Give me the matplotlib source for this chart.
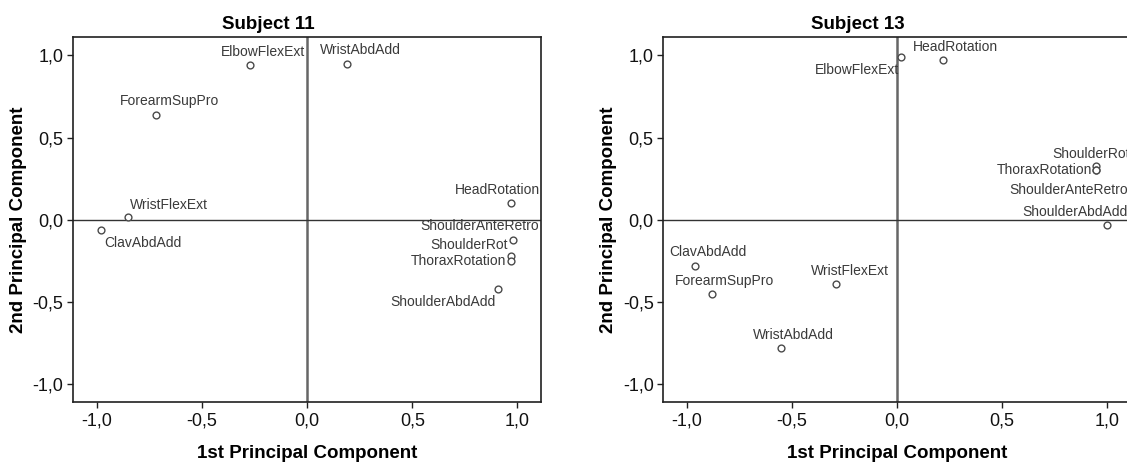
import matplotlib
matplotlib.use('Agg')
import matplotlib.pyplot as plt
from matplotlib.ticker import FuncFormatter

# =====================================================
# DATA (component loadings)
# =====================================================

s11_names = ['ElbowFlexExt', 'WristAbdAdd', 'ForearmSupPro', 'HeadRotation',
             'WristFlexExt', 'ClavAbdAdd', 'ShoulderRot', 'ShoulderAnteRetro',
             'ThoraxRotation', 'ShoulderAbdAdd']
s11_pc1 = [-0.27, 0.19, -0.72, 0.97, -0.85, -0.98, 0.98, 0.97, 0.97, 0.91]
s11_pc2 = [0.94, 0.95, 0.64, 0.10, 0.02, -0.06, -0.12, -0.22, -0.25, -0.42]

s13_names = ['ElbowFlexExt', 'HeadRotation', 'ShoulderRot', 'ThoraxRotation',
             'ShoulderAnteRetro', 'ShoulderAbdAdd', 'ClavAbdAdd',
             'ForearmSupPro', 'WristFlexExt', 'WristAbdAdd']
s13_pc1 = [0.02, 0.22, 0.95, 0.95, 0.95, 1.00, -0.96, -0.88, -0.29, -0.55]
s13_pc2 = [0.99, 0.97, 0.33, 0.30, 0.30, -0.03, -0.28, -0.45, -0.39, -0.78]

tick_values = [-1.0, -0.5, 0.0, 0.5, 1.0]

# label placement: (dx px, dy px, horizontal alignment)
s11_label_pos = [(-29, 13, 'left'), (-27, 14, 'left'), (-36, 14, 'left'),
                 (29, 13, 'right'), (2, 12, 'left'), (3, -13, 'left'),
                 (-5, -5, 'right'), (28, 30, 'right'), (-5, 0, 'right'),
                 (-3, -13, 'right')]
s13_label_pos = [(-2, -13, 'right'), (-30, 13, 'left'), (-44, 12, 'left'),
                 (-4, 0, 'right'), (-87, -20, 'left'), (-84, 13, 'left'),
                 (-26, 14, 'left'), (-37, 13, 'left'), (-25, 13, 'left'),
                 (-28, 13, 'left')]

# =====================================================
# STYLE
# =====================================================

plt.rcParams['font.family'] = ['Liberation Sans', 'DejaVu Sans']

TEXT_COL = '#3a3a3a'
MARKER_COL = '#4a4a4a'
FRAME_COL = '#202020'


def comma_fmt(v, pos):
    return f'{v:.1f}'.replace('.', ',')


def draw_panel(ax, names, pc1, pc2, label_pos, title):
    ax.axvline(0, color='#666666', linewidth=1.8, zorder=1)
    ax.axhline(0, color='#333333', linewidth=1.0, zorder=1)

    ax.scatter(pc1, pc2, s=24, facecolors='white', edgecolors=MARKER_COL,
               linewidths=1.0, zorder=3)

    for name, x, y, (dx, dy, ha) in zip(names, pc1, pc2, label_pos):
        ax.annotate(name, (x, y), xytext=(dx, dy), textcoords='offset pixels',
                    ha=ha, va='center', fontsize=10, color=TEXT_COL, zorder=4,
                    annotation_clip=False)

    ax.set_xlim(-1.112, 1.112)
    ax.set_ylim(-1.11, 1.11)
    ax.set_xticks(tick_values)
    ax.set_yticks(tick_values)
    ax.xaxis.set_major_formatter(FuncFormatter(comma_fmt))
    ax.yaxis.set_major_formatter(FuncFormatter(comma_fmt))
    ax.tick_params(labelsize=13, length=4, width=1, color=FRAME_COL,
                   labelcolor='#111111', pad=3)

    for side in ax.spines.values():
        side.set_color(FRAME_COL)
        side.set_linewidth(1.2)

    ax.set_title(title, fontsize=13.5, fontweight='bold', pad=6, x=0.417)
    ax.set_xlabel('1st Principal Component', fontsize=13.5, fontweight='bold')
    ax.set_ylabel('2nd Principal Component', fontsize=13.5, fontweight='bold')
    ax.xaxis.set_label_coords(0.5, -0.117)
    ax.yaxis.set_label_coords(-0.099, 0.5)


fig = plt.figure(figsize=(11.27, 4.65), dpi=100)

ax1 = fig.add_axes([0.065, 0.1348, 0.415, 0.785])
draw_panel(ax1, s11_names, s11_pc1, s11_pc2, s11_label_pos, 'Subject 11')

# right panel runs past the right edge of the picture, as in the original
ax2 = fig.add_axes([0.5886, 0.1348, 0.4142, 0.785])
draw_panel(ax2, s13_names, s13_pc1, s13_pc2, s13_label_pos, 'Subject 13')

fig.savefig('out.png', dpi=100)
